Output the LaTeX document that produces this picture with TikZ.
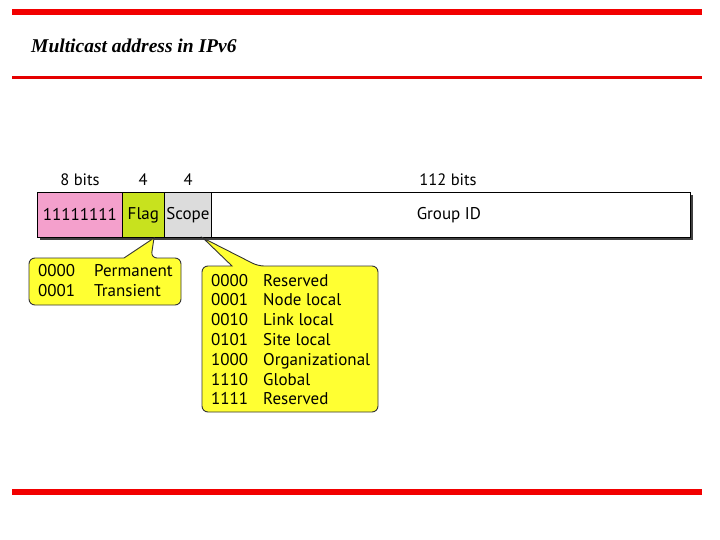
\documentclass[tikz,border=0pt]{standalone}
\usepackage{fontspec}
\setmainfont{Liberation Serif}
\newfontfamily\lab{PT Sans}
\begin{document}
\begin{tikzpicture}[x=1pt,y=-1pt,
  cell/.style={draw=black,line width=0.8pt,minimum height=45pt,inner sep=0pt,anchor=north west,font=\lab\fontsize{17}{20}\selectfont},
  bitlab/.style={font=\lab\fontsize{16.5}{20}\selectfont,anchor=base},
  cotext/.style={font=\lab\fontsize{17}{20}\selectfont,anchor=base west,inner sep=0pt},
  callout/.style={fill={rgb,255:red,255;green,255;blue,50},draw=black!80,line width=0.9pt}
]
\useasboundingbox (0,0) rectangle (720,540);
% bars
\fill[red!95!black] (12,9) rectangle (702,15);
\fill[red!90!black] (12,76) rectangle (702,79);
\fill[red!95!black] (12,489) rectangle (702,495);
\node[anchor=base west,inner sep=0pt,font=\fontsize{19.5}{22}\selectfont\bfseries\itshape] (title) at (31,53) {Multicast address in IPv6};
% shadow
\fill[black!75] (40,195) rectangle (693,240);
% cells
\node[cell,fill={rgb,255:red,244;green,160;blue,204},minimum width=85pt] (ones) at (37,192) {11111111};
\node[cell,fill={rgb,255:red,200;green,226;blue,30},minimum width=42pt] (flag) at (122,192) {Flag};
\node[cell,fill={rgb,255:red,220;green,220;blue,220},minimum width=47pt] (scope) at (164,192) {Scope};
\node[cell,fill=white,minimum width=479pt] (gid) at (211,192) {\hspace*{-4pt}Group ID};
% bit labels
\node[bitlab] (b8) at (80,186) {8 bits};
\node[bitlab] (b4a) at (143,186) {4};
\node[bitlab] (b4b) at (188,186) {4};
\node[bitlab] (b112) at (448,186) {112 bits};
% callout 1
\coordinate (t1) at (154,238);
\path[callout,rounded corners=6pt] (29,258) -- (29,305) -- (181,305) -- (181,258) -- (151,258) [sharp corners] -- (t1) -- (124,258) [rounded corners=6pt] -- cycle;
\node[cotext] (f0) at (38,276) {0000};
\node[cotext] (f0d) at (94,276) {Permanent};
\node[cotext] (f1) at (38,296) {0001};
\node[cotext] (f1d) at (94,296) {Transient};
% callout 2
\coordinate (t2) at (203,238);
\path[callout,rounded corners=6pt] (202,266) -- (202,412) -- (378,412) -- (378,266) -- (258,266) [sharp corners] -- (t2) -- (232,266) [rounded corners=6pt] -- cycle;
\foreach \c/\d [count=\i from 0] in {0000/Reserved,0001/Node local,0010/Link local,0101/Site local,1000/Organizational,1110/Global,1111/Reserved}{
  \node[cotext] (s\i) at (211,286+19.8*\i) {\c};
  \node[cotext] (sd\i) at (263,286+19.8*\i) {\d};
}
\end{tikzpicture}
\end{document}
